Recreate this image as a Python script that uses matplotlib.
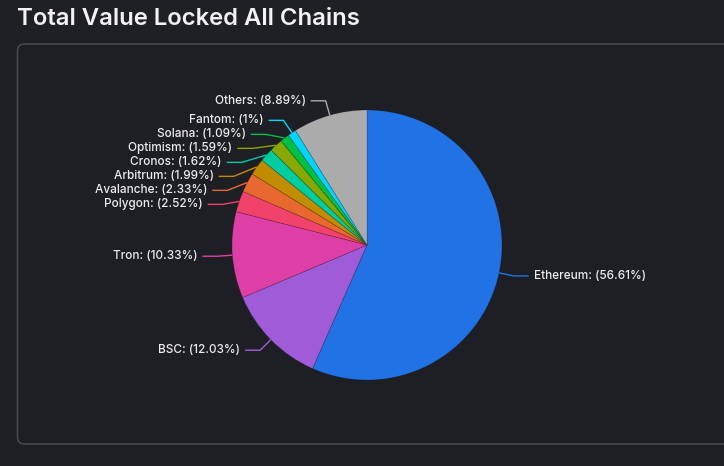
import numpy as np
import matplotlib
matplotlib.use('Agg')
import matplotlib.pyplot as plt
from matplotlib.patches import FancyBboxPatch

plt.rcParams['font.family'] = ['Inter', 'DejaVu Sans']

chains = ['Ethereum', 'BSC', 'Tron', 'Polygon', 'Avalanche', 'Arbitrum',
          'Cronos', 'Optimism', 'Solana', 'Fantom', 'Others']
shares = [56.61, 12.03, 10.33, 2.52, 2.33, 1.99, 1.62, 1.59, 1.09, 1, 8.89]
colors = ['#2172e5', '#a05cd8', '#de3fa6', '#f0426b', '#e8692f', '#c28c00',
          '#00cca2', '#87a800', '#00bf45', '#00d4ff', '#ababab']

W, H = 724, 466
bg = '#1f2024'
fig = plt.figure(figsize=[W/100, H/100], dpi=100, facecolor=bg)
ax = fig.add_axes([0, 0, 1, 1])
ax.set_facecolor(bg)

# page title + card
fig.text(17/W, 1 - 19/H, 'Total Value Locked All Chains', color='#f2f2f2',
         fontsize=17.2, fontweight='semibold', va='center', ha='left')
card = FancyBboxPatch((17.5, H - 444), 730, 400, boxstyle='round,pad=0,rounding_size=7',
                      facecolor='#1e1f24', edgecolor='#4a4b52', linewidth=1.1)
ax.add_patch(card)

cx, cy, R = 367, 245, 135  # pixel coords (y down)
ax.pie(shares, colors=colors, startangle=90, counterclock=False,
       center=(cx, H - cy), radius=R,
       wedgeprops=dict(edgecolor='#00000030', linewidth=0.6))

# label layout: elbow at R+15, shift overlapping labels down
pct = np.array(shares) / np.sum(shares)
mids = (np.cumsum(pct) - pct / 2) * 2 * np.pi
R2 = R + 15
labels = []
for name, s, col, a in zip(chains, shares, colors, mids):
    side = 1 if np.sin(a) > 0 else -1
    labels.append(dict(name=name, s=s, col=col, a=a, side=side,
                       y=cy - R2 * np.cos(a)))
for side in (-1, 1):
    grp = sorted([l for l in labels if l['side'] == side], key=lambda l: l['y'])
    prev = -1e9
    for l in grp:
        l['y'] = max(l['y'], prev + 14)
        prev = l['y']

for l in labels:
    a, side, y = l['a'], l['side'], l['y']
    ex, ey = cx + R * np.sin(a), cy - R * np.cos(a)
    bx = cx + side * np.sqrt(max(R2**2 - (y - cy)**2, 0))
    ax.plot([ex, bx, bx + side * 15], [H - ey, H - y, H - y], color=l['col'],
            linewidth=1, solid_capstyle='butt')
    txt = f"{l['name']}: ({l['s']:g}%)"
    ax.text(bx + side * 20, H - y, txt, color='#ececec', fontsize=8.5,
            fontweight='medium', ha='left' if side > 0 else 'right', va='center')

ax.set_xlim(0, W)
ax.set_ylim(0, H)
ax.set_aspect('auto')
ax.axis('off')

plt.savefig('out.png', dpi=100, facecolor=bg)
